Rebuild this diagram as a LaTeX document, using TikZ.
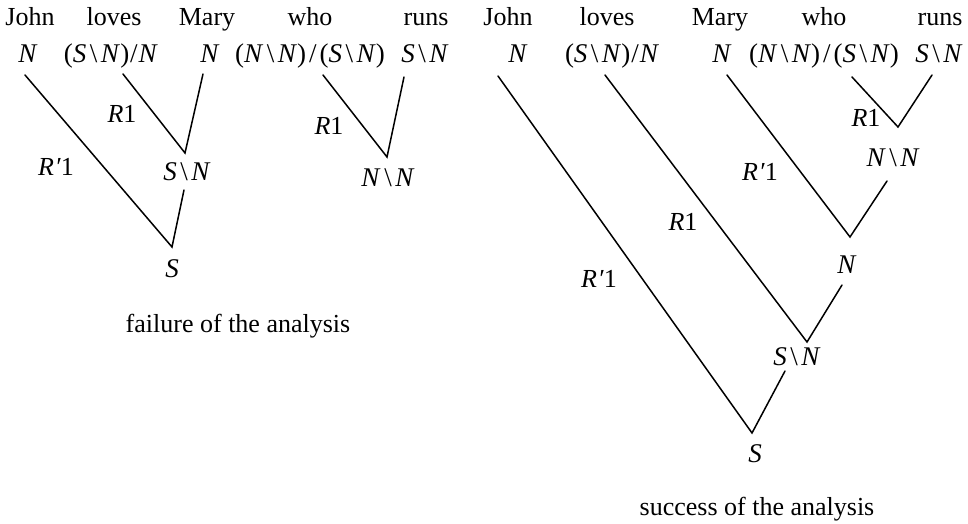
\documentclass[tikz,border=0pt]{standalone}
\usepackage{fontspec}
\setmainfont{Liberation Serif}
% category notation: italic letters, upright slashes with a little air
\newcommand\bsl{\kern3.5pt\textup{\textbackslash}\kern3.5pt}
\newcommand\fsl{\kern1pt/\kern1pt}
\newcommand\wsl{\kern3pt/\kern3pt}
\newcommand\ct[1]{\textit{#1}}
\newcommand\rp{\textit{R}\kern1pt\textit{′}1}
\begin{document}
\begin{tikzpicture}[x=1pt,y=-1pt,
  every node/.style={inner sep=0pt, anchor=base, font=\fontsize{26}{30}\selectfont},
  cat/.style={font=\fontsize{27}{30}\selectfont},
  branch/.style={line width=1.5pt, line cap=round, line join=miter}]
\useasboundingbox (0,0) rectangle (968,524);

% ---------- left derivation: failure ----------
\node (wJohnA)  at (30,26)  {John};
\node (wLovesA) at (114,26) {loves};
\node (wMaryA)  at (207,26) {Mary};
\node (wWhoA)   at (310,26) {who};
\node (wRunsA)  at (426,26) {runs};

\node[cat] (cJohnA)  at (28,63)  {\ct{N}};
\node[cat] (cLovesA) at (111,63) {(\ct{S}\bsl\ct{N})\fsl\ct{N}};
\node[cat] (cMaryA)  at (210,63) {\ct{N}};
\node[cat] (cWhoA)   at (310,63) {(\ct{N}\bsl\ct{N})\wsl(\ct{S}\bsl\ct{N})};
\node[cat] (cRunsA)  at (425,63) {\ct{S}\bsl\ct{N}};

\coordinate (vA1) at (185,153);
\coordinate (vA2) at (172,247);
\coordinate (vA3) at (387,157);

\node[cat] (snA) at (187,180) {\ct{S}\bsl\ct{N}};
\node[cat] (sA)  at (172,277) {\ct{S}};
\node[cat] (nnA) at (388,186) {\ct{N}\bsl\ct{N}};

\node (rA1) at (122,122) {\ct{R}1};
\node (rA2) at (56,175)  {\rp};
\node (rA3) at (329,135) {\ct{R}1};

\draw[branch] ([shift={(12,11)}]cLovesA.base) -- (vA1) -- ([shift={(-7,11)}]cMaryA.base);
\draw[branch] ([shift={(-3,12)}]cJohnA.base) -- (vA2) -- ([shift={(-3,10)}]snA.base);
\draw[branch] ([shift={(13,12)}]cWhoA.base) -- (vA3) -- ([shift={(-21,14)}]cRunsA.base);

\node (capA) at (238,332) {failure of the analysis};

% ---------- right derivation: success ----------
\node (wJohnB)  at (508,26) {John};
\node (wLovesB) at (607,26) {loves};
\node (wMaryB)  at (720,26) {Mary};
\node (wWhoB)   at (824,26) {who};
\node (wRunsB)  at (940,26) {runs};

\node[cat] (cJohnB)  at (518,63) {\ct{N}};
\node[cat] (cLovesB) at (612,63) {(\ct{S}\bsl\ct{N})\fsl\ct{N}};
\node[cat] (cMaryB)  at (722,63) {\ct{N}};
\node[cat] (cWhoB)   at (824,63) {(\ct{N}\bsl\ct{N})\wsl(\ct{S}\bsl\ct{N})};
\node[cat] (cRunsB)  at (939,63) {\ct{S}\bsl\ct{N}};

\coordinate (vB1) at (898,127);
\coordinate (vB2) at (850,237);
\coordinate (vB3) at (807,342);
\coordinate (vB4) at (752,433);

\node[cat] (nnB) at (893,166) {\ct{N}\bsl\ct{N}};
\node[cat] (nB)  at (847,273) {\ct{N}};
\node[cat] (snB) at (797,365) {\ct{S}\bsl\ct{N}};
\node[cat] (sB)  at (755,462) {\ct{S}};

\node (rB1) at (866,127) {\ct{R}1};
\node (rB2) at (760,180) {\rp};
\node (rB3) at (683,230) {\ct{R}1};
\node (rB4) at (599,287) {\rp};

\draw[branch] ([shift={(28,14)}]cWhoB.base) -- (vB1) -- ([shift={(-7,12)}]cRunsB.base);
\draw[branch] ([shift={(5,12)}]cMaryB.base) -- (vB2) -- ([shift={(-6,15)}]nnB.base);
\draw[branch] ([shift={(-7,12)}]cLovesB.base) -- (vB3) -- ([shift={(-5,12)}]nB.base);
\draw[branch] ([shift={(-20,13)}]cJohnB.base) -- (vB4) -- ([shift={(-12,6)}]snB.base);

\node (capB) at (757,515) {success of the analysis};
\end{tikzpicture}
\end{document}
